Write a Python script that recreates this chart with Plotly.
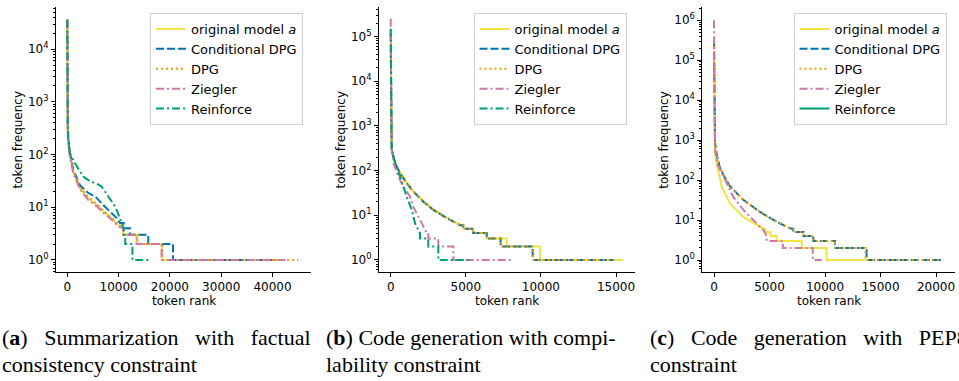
import plotly.graph_objects as go

# ---------------- data ----------------
SERIES = ["original model <i>a</i>", "Conditional DPG", "DPG", "Ziegler", "Reinforce"]
COLORS = ["#f0e442", "#0072b2", "#e69f00", "#cc79a7", "#009e73"]

# (a) summarization
SUM_RANK_ORIG = [0, 10, 40, 100, 200, 500, 1170, 2480, 4000, 5730, 7000, 8320, 9300, 10270, 10900, 10900, 13530, 13530, 18400, 18400, 42100]
SUM_FREQ_ORIG = [36000, 3000, 600, 280, 180, 95, 47, 23, 15, 11, 8.3, 6.6, 5.3, 4.3, 4, 3, 3, 2, 2, 1, 1]
SUM_RANK_CDPG = [0, 10, 40, 100, 200, 500, 1170, 2480, 4000, 5730, 7000, 8320, 9630, 10270, 11000, 11000, 12200, 12200, 15790, 15790, 20600, 20600, 42100]
SUM_FREQ_CDPG = [36000, 3200, 650, 300, 190, 110, 51, 26, 19, 15, 11, 8.3, 6.2, 5, 5, 4, 4, 3, 3, 2, 2, 1, 1]
SUM_RANK_DPG = [0, 10, 40, 100, 200, 500, 1170, 2480, 4000, 5730, 7000, 8320, 9300, 10270, 10900, 10900, 13700, 13700, 18500, 18500, 45000]
SUM_FREQ_DPG = [37000, 3000, 620, 290, 185, 100, 49, 24, 16, 11.5, 8.6, 6.8, 5.5, 4.5, 4, 3, 3, 2, 2, 1, 1]
SUM_RANK_ZIEG = [0, 10, 40, 100, 200, 500, 1170, 2480, 4000, 5730, 7000, 8320, 9300, 10270, 10900, 10900, 13500, 13500, 18400, 18400, 42500]
SUM_FREQ_ZIEG = [34000, 2800, 560, 260, 170, 90, 44, 22, 14, 10.5, 7.8, 6.2, 5, 4.2, 4, 3, 3, 2, 2, 1, 1]
SUM_RANK_REIN = [0, 10, 40, 100, 200, 530, 1500, 2400, 3120, 4000, 5070, 6000, 6700, 7500, 8320, 9000, 9630, 10600, 11000, 11000, 11300, 11300, 12700, 12700, 16100]
SUM_FREQ_REIN = [36000, 3500, 800, 330, 200, 105, 68, 48, 38, 33, 30, 27, 24.5, 19, 14.8, 11.5, 8.9, 5, 4, 3, 3, 2, 2, 1, 1]

# (b) code generation, compilability
CODE_RANK_ORIG = [0, 15, 67, 290, 620, 1065, 1500, 2170, 2840, 3730, 4610, 4830, 4830, 5500, 5500, 6390, 6390, 7720, 7720, 9940, 9940, 15490]
CODE_FREQ_ORIG = [50000, 2000, 300, 150, 90, 54, 35, 21, 13.5, 8.8, 6.2, 6, 5, 5, 4, 4, 3, 3, 2, 2, 1, 1]
CODE_RANK_CDPG = [0, 15, 67, 290, 620, 1065, 1500, 2170, 2840, 3730, 4610, 4830, 4830, 5500, 5500, 6390, 6390, 7320, 7320, 9450, 9450, 14820]
CODE_FREQ_CDPG = [120000, 2000, 290, 146, 87, 52, 34, 20, 13.2, 8.6, 6, 6, 5, 5, 4, 4, 3, 3, 2, 2, 1, 1]
CODE_RANK_DPG = [0, 15, 67, 290, 620, 1065, 1500, 2170, 2840, 3730, 4610, 4830, 4830, 5500, 5500, 6390, 6390, 7320, 7320, 9450, 9450, 15100]
CODE_FREQ_DPG = [120000, 2000, 290, 146, 87, 52, 34, 20, 13.2, 8.6, 6, 6, 5, 5, 4, 4, 3, 3, 2, 2, 1, 1]
CODE_RANK_ZIEG = [0, 15, 60, 200, 510, 840, 1290, 1500, 1840, 2170, 2400, 2500, 2500, 3170, 3170, 4170, 4170, 8160]
CODE_FREQ_ZIEG = [250000, 3000, 350, 140, 73, 44, 26, 15.6, 9.3, 5.6, 4, 4, 3, 3, 2, 2, 1, 1]
CODE_RANK_REIN = [0, 15, 60, 173, 400, 730, 1065, 1400, 1620, 1840, 1950, 1950, 2500, 2500, 3170, 3170, 5280]
CODE_FREQ_REIN = [150000, 2500, 300, 205, 123, 52, 26, 13.2, 6.6, 4.7, 4, 3, 3, 2, 2, 1, 1]

# (c) code generation, PEP8
PEP_RANK_ORIG = [0, 20, 90, 240, 690, 1440, 2640, 4140, 4620, 4620, 5100, 5100, 5650, 5650, 7900, 7900, 10150, 10150, 13700]
PEP_FREQ_ORIG = [100000, 3000, 500, 260, 68, 26, 12, 6.8, 6, 5, 5, 4, 4, 3, 3, 2, 2, 1, 1]
PEP_RANK_CDPG = [0, 20, 90, 240, 500, 840, 1440, 2640, 4140, 5650, 6850, 7140, 7140, 8050, 8050, 8950, 8950, 10900, 10900, 13750, 13750, 20600]
PEP_FREQ_CDPG = [300000, 5000, 900, 450, 220, 135, 70, 32, 16, 9.1, 6.2, 6, 5, 5, 4, 4, 3, 3, 2, 2, 1, 1]
PEP_RANK_DPG = [0, 20, 90, 240, 500, 840, 1440, 2640, 4140, 5650, 6850, 7140, 7140, 8050, 8050, 8950, 8950, 10900, 10900, 13650, 13650, 20500]
PEP_FREQ_DPG = [300000, 5000, 900, 450, 220, 135, 70, 32, 16, 9.1, 6.2, 6, 5, 5, 4, 4, 3, 3, 2, 2, 1, 1]
PEP_RANK_ZIEG = [0, 20, 90, 300, 990, 1740, 2640, 3540, 4440, 4750, 4750, 6200, 6200, 8900, 8900, 9700]
PEP_FREQ_ZIEG = [1000000, 4000, 600, 250, 100, 38, 18, 10, 5.6, 4, 3, 3, 2, 2, 1, 1]
PEP_RANK_REIN = [None]   # no visible curve in the reference, legend entry only
PEP_FREQ_REIN = [None]

PANELS = [
    dict(ranks=[SUM_RANK_ORIG, SUM_RANK_CDPG, SUM_RANK_DPG, SUM_RANK_ZIEG, SUM_RANK_REIN],
         freqs=[SUM_FREQ_ORIG, SUM_FREQ_CDPG, SUM_FREQ_DPG, SUM_FREQ_ZIEG, SUM_FREQ_REIN],
         rein_dash="dashdot"),
    dict(ranks=[CODE_RANK_ORIG, CODE_RANK_CDPG, CODE_RANK_DPG, CODE_RANK_ZIEG, CODE_RANK_REIN],
         freqs=[CODE_FREQ_ORIG, CODE_FREQ_CDPG, CODE_FREQ_DPG, CODE_FREQ_ZIEG, CODE_FREQ_REIN],
         rein_dash="dashdot"),
    dict(ranks=[PEP_RANK_ORIG, PEP_RANK_CDPG, PEP_RANK_DPG, PEP_RANK_ZIEG, PEP_RANK_REIN],
         freqs=[PEP_FREQ_ORIG, PEP_FREQ_CDPG, PEP_FREQ_DPG, PEP_FREQ_ZIEG, PEP_FREQ_REIN],
         rein_dash="solid"),
]

X_TICKS = [[0, 10000, 20000, 30000, 40000], [0, 5000, 10000, 15000], [0, 5000, 10000, 15000, 20000]]
X_TICKTEXT = [[str(v) for v in t] for t in X_TICKS]
Y_TICKS = [[1, 10, 100, 1000, 10000], [1, 10, 100, 1000, 10000, 100000],
           [1, 10, 100, 1000, 10000, 100000, 1000000]]
Y_TICKTEXT = [["10<sup>%d</sup>" % i for i in range(len(t))] for t in Y_TICKS]
X_LABEL = "token rank"
Y_LABEL = "token frequency"
CAPTIONS = [
    ["(<b>a</b>)   Summarization   with   factual", "consistency constraint"],
    ["(<b>b</b>) Code generation with compi-", "lability constraint"],
    ["(<b>c</b>)   Code   generation   with   PEP8", "constraint"],
]

# ---------------- layout geometry (pixels) ----------------
W, H = 959, 381
PLOT_X = [(56, 311), (379, 635), (702.3, 955)]
PLOT_TOP, PLOT_BOTTOM = 7, 272
X_RANGES = [[-2200, 47500], [-780, 16265], [-1054, 21712]]
Y_RANGES = [[-0.23, 4.8], [-0.27, 5.66], [-0.3, 6.33]]
LEGEND_LEFT = [150, 473.5, 793.5]
DASHES = ["solid", "8px,3px", "2px,3px", "8px,3px,2px,3px"]

FONT = "DejaVu Sans"
fig = go.Figure()

def px_x(v):
    return v / W

def px_y(v):
    return 1 - v / H

minor_vals = []
for k in range(-1, 7):
    for m in range(2, 10):
        minor_vals.append(m * 10 ** k)

for p, panel in enumerate(PANELS):
    xa = "x" if p == 0 else "x%d" % (p + 1)
    ya = "y" if p == 0 else "y%d" % (p + 1)
    lg = "legend" if p == 0 else "legend%d" % (p + 1)
    for s in range(5):
        dash = DASHES[s] if s < 4 else ("8px,3px,2px,3px" if panel["rein_dash"] == "dashdot" else "solid")
        fig.add_trace(go.Scatter(
            x=panel["ranks"][s], y=panel["freqs"][s], mode="lines",
            name=SERIES[s], legend=lg, xaxis=xa, yaxis=ya,
            line=dict(color=COLORS[s], width=2, dash=dash),
            showlegend=True,
        ))
    x0, x1 = PLOT_X[p]
    axx = dict(domain=[px_x(x0), px_x(x1)], range=X_RANGES[p], anchor=ya,
               showline=True, linecolor="black", linewidth=1, mirror=False,
               showgrid=False, zeroline=False, ticks="outside", ticklen=4, tickwidth=1,
               tickcolor="black", tickvals=X_TICKS[p], ticktext=X_TICKTEXT[p],
               tickfont=dict(family=FONT, size=12, color="black"))
    axy = dict(domain=[px_y(PLOT_BOTTOM), px_y(PLOT_TOP)], range=Y_RANGES[p], type="log",
               anchor=xa, showline=True, linecolor="black", linewidth=1, mirror=False,
               showgrid=False, zeroline=False, ticks="outside", ticklen=4, tickwidth=1,
               tickcolor="black", tickvals=Y_TICKS[p], ticktext=Y_TICKTEXT[p],
               tickfont=dict(family=FONT, size=12, color="black"),
               minor=dict(ticks="outside", ticklen=2, tickwidth=0.8, tickcolor="black",
                          tickvals=minor_vals, showgrid=False))
    fig.update_layout({("xaxis" if p == 0 else "xaxis%d" % (p + 1)): axx,
                       ("yaxis" if p == 0 else "yaxis%d" % (p + 1)): axy,
                       lg: dict(x=px_x(LEGEND_LEFT[p]), y=px_y(13), xanchor="left", yanchor="top",
                                bgcolor="white", bordercolor="#d0d0d0", borderwidth=1,
                                font=dict(family=FONT, size=13, color="black"),
                                tracegroupgap=0)})
    # axis titles
    fig.add_annotation(text=X_LABEL, xref="paper", yref="paper", x=px_x((x0 + x1) / 2), y=px_y(301),
                       showarrow=False, font=dict(family=FONT, size=12, color="black"),
                       xanchor="center", yanchor="middle")
    fig.add_annotation(text=Y_LABEL, xref="paper", yref="paper", x=px_x(x0 - 39), y=px_y((PLOT_TOP + PLOT_BOTTOM) / 2),
                       showarrow=False, textangle=-90, font=dict(family=FONT, size=12, color="black"),
                       xanchor="center", yanchor="middle")

CAP_LEFT = [0, 324, 648]
for p in range(3):
    for li, line in enumerate(CAPTIONS[p]):
        fig.add_annotation(text=line, xref="paper", yref="paper", x=px_x(CAP_LEFT[p]), y=px_y(337 + 27 * li),
                           showarrow=False, xanchor="left", yanchor="middle",
                           font=dict(family="Liberation Serif", size=22, color="black"))

fig.update_layout(width=W, height=H, margin=dict(l=0, r=0, t=0, b=0),
                  paper_bgcolor="white", plot_bgcolor="white")
fig.write_html("out.html")
